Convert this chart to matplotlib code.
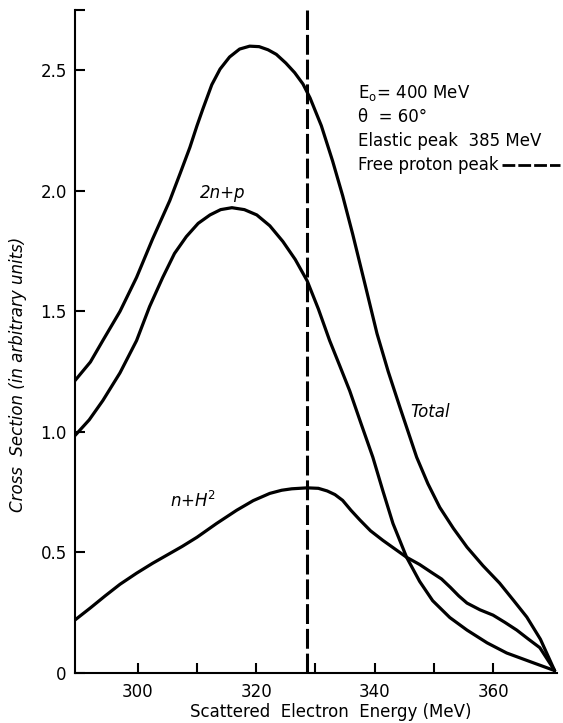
import matplotlib
matplotlib.use('Agg')
from matplotlib import pyplot as plt
from matplotlib.lines import Line2D

# curves (energy in MeV, cross section in arbitrary units)
total_x = [289.4, 292.0, 294.1, 297.0, 299.8, 302.5, 305.4, 307.2, 308.8, 310.0,
           311.0, 312.5, 313.9, 315.5, 317.2, 318.9, 320.5, 322.0, 323.4, 325.0,
           326.5, 327.9, 329.1, 331.0, 332.9, 334.6, 336.3, 338.4, 340.4, 342.3,
           344.3, 347.1, 349.0, 351.0, 353.3, 355.6, 358.3, 361.1, 363.5, 365.7,
           368.0, 370.4]
total_y = [1.213, 1.29, 1.379, 1.50, 1.641, 1.80, 1.959, 2.075, 2.18, 2.27,
           2.34, 2.44, 2.505, 2.555, 2.588, 2.60, 2.598, 2.585, 2.566, 2.53,
           2.49, 2.443, 2.385, 2.27, 2.124, 1.98, 1.82, 1.61, 1.408, 1.25,
           1.10, 0.895, 0.785, 0.687, 0.60, 0.522, 0.445, 0.373, 0.30, 0.232,
           0.14, 0.01]

np_x = [289.4, 291.8, 294.1, 297.0, 299.8, 302.0, 304.2, 306.2, 308.2, 310.2,
        312.2, 314.0, 315.9, 318.0, 320.1, 322.3, 324.5, 326.6, 328.6, 330.5,
        332.4, 334.1, 335.8, 337.7, 339.7, 341.4, 343.1, 345.4, 347.6, 349.8,
        352.7, 355.6, 359.0, 362.3, 366.5, 370.4]
np_y = [0.985, 1.05, 1.13, 1.245, 1.379, 1.52, 1.64, 1.74, 1.81, 1.865,
        1.90, 1.922, 1.93, 1.922, 1.90, 1.855, 1.79, 1.715, 1.627, 1.51,
        1.379, 1.275, 1.17, 1.035, 0.895, 0.755, 0.62, 0.48, 0.38, 0.30,
        0.23, 0.178, 0.125, 0.083, 0.045, 0.01]

nh_x = [289.4, 292.0, 294.5, 297.0, 299.8, 302.5, 305.0, 307.5, 310.0, 313.3,
        316.7, 319.5, 322.3, 324.3, 326.0, 328.6, 330.5, 332.0, 333.3, 334.6,
        336.0, 337.5, 339.3, 341.4, 343.4, 345.4, 347.6, 349.8, 351.3, 352.8,
        354.2, 355.6, 357.8, 360.0, 362.0, 364.0, 366.0, 367.9, 370.4]
nh_y = [0.22, 0.27, 0.32, 0.368, 0.414, 0.455, 0.49, 0.525, 0.563, 0.62,
        0.675, 0.715, 0.745, 0.758, 0.764, 0.768, 0.766, 0.755, 0.74, 0.716,
        0.675, 0.635, 0.59, 0.55, 0.515, 0.48, 0.45, 0.414, 0.39, 0.355,
        0.32, 0.29, 0.262, 0.24, 0.21, 0.178, 0.14, 0.105, 0.01]

free_proton_peak = 328.6

yticks = [0, 0.5, 1.0, 1.5, 2.0, 2.5, 2.75]
ytick_labels = ['0', '0.5', '1.0', '1.5', '2.0', '2.5', '']
xticks = [300, 310, 320, 330, 340, 350, 360]
xtick_labels = ['300', '', '320', '', '340', '', '360']

info_lines = [r'E$_\mathregular{o}$= 400 MeV', '\u03b8  = 60\u00b0',
              'Elastic peak  385 MeV', 'Free proton peak']

fig = plt.figure(figsize=(5.63, 7.23), dpi=100)
ax = fig.add_axes([75 / 563, 1 - 673 / 723, 482 / 563, 663 / 723])

ax.plot(total_x, total_y, color='black', lw=2.3, solid_capstyle='round')
ax.plot(np_x, np_y, color='black', lw=2.3, solid_capstyle='round')
ax.plot(nh_x, nh_y, color='black', lw=2.3, solid_capstyle='round')
ax.axvline(free_proton_peak, color='black', lw=2.2, dashes=(6.5, 1.6))

ax.text(310.5, 1.97, '2n+p', fontsize=12, style='italic')
ax.text(305.4, 0.69, r'n+H$^{2}$', fontsize=12, style='italic')
ax.text(346.0, 1.06, 'Total', fontsize=12, style='italic')

# parameter block, top right
for i, line in enumerate(info_lines):
    ax.text(0.587, 0.875 - i * 0.0365, line, fontsize=12,
            transform=ax.transAxes, va='center', ha='left')
# dashed key after the last line
ax.add_line(Line2D([0.885, 1.006], [0.875 - 3 * 0.0365] * 2, color='black',
                   lw=2.0, dashes=(4.6, 1.1), transform=ax.transAxes,
                   clip_on=False))

ax.set_xlim(289.4, 370.8)
ax.set_ylim(0, 2.75)
ax.set_xticks(xticks)
ax.set_xticklabels(xtick_labels)
ax.set_yticks(yticks)
ax.set_yticklabels(ytick_labels)
ax.tick_params(direction='in', length=7, width=1.5, labelsize=12)
ax.tick_params(axis='x', pad=7)
ax.tick_params(axis='y', pad=6)
for side in ['top', 'right']:
    ax.spines[side].set_visible(False)
for side in ['left', 'bottom']:
    ax.spines[side].set_linewidth(1.5)

ax.set_xlabel('Scattered  Electron  Energy (MeV)', fontsize=12)
ax.xaxis.set_label_coords(0.53, -0.045)
ax.set_ylabel('Cross  Section (in arbitrary units)', fontsize=12, style='italic')
ax.yaxis.set_label_coords(-0.10, 0.45)

plt.savefig('out.png', dpi=100)
